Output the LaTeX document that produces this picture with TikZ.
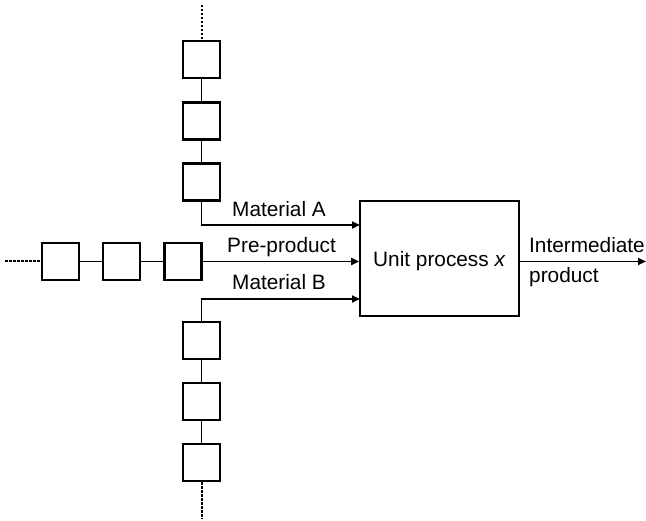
\documentclass[tikz,border=0pt]{standalone}
\usepackage{fontspec}
\setmainfont{Liberation Sans}
\usetikzlibrary{arrows.meta}
\begin{document}
\begin{tikzpicture}[x=1pt,y=-1pt,
  stage/.style={draw, line width=2.3pt, minimum width=37pt, minimum height=37pt, inner sep=0pt},
  unitbox/.style={draw, line width=1.6pt, minimum width=159pt, minimum height=115pt, inner sep=0pt},
  flow/.style={line width=1.9pt, -{Triangle[length=8pt,width=7pt]}},
  link/.style={line width=1.9pt},
  chainend/.style={line width=2pt, dash pattern=on 2.5pt off 1.5pt},
  lbl/.style={anchor=base west, inner sep=0pt, font=\fontsize{20.8}{24}\selectfont}]
\useasboundingbox (0,0) rectangle (646,521);

% unit process
\node[unitbox] (unit) at (439.5,258.5) {};
\node[lbl] (unitlbl) at (373,266.7) {Unit process \textit{x}};

% upper chain (material A)
\node[stage] (t1) at (201.5,59.5) {};
\node[stage] (t2) at (201.5,121) {};
\node[stage] (t3) at (201.5,182) {};
\coordinate (ttop) at (201.5,5);
\draw[chainend] (ttop) -- (t1.north);
\draw[link] (t1) -- (t2);
\draw[link] (t2) -- (t3);

% left chain (pre-product)
\node[stage] (h1) at (60.5,261.5) {};
\node[stage] (h2) at (121.5,261.5) {};
\node[stage] (h3) at (183,261.5) {};
\coordinate (hleft) at (5,261.5);
\draw[chainend] (hleft) -- (h1.west);
\draw[link] (h1) -- (h2);
\draw[link] (h2) -- (h3);

% lower chain (material B)
\node[stage] (b1) at (201.5,340.5) {};
\node[stage] (b2) at (201.5,401.5) {};
\node[stage] (b3) at (201.5,462.5) {};
\coordinate (bbot) at (201.5,519);
\draw[chainend] (b3.south) -- (bbot);
\draw[link] (b1) -- (b2);
\draw[link] (b2) -- (b3);

% inputs into the unit process
\coordinate (ma) at (360,225);
\coordinate (mb) at (360,299);
\draw[flow] (t3.south) |- (ma);
\draw[flow] (h3.east) -- (h3 -| unit.west);
\draw[flow] (b1.north) |- (mb);
\node[lbl] (lblA) at (232,216.7) {Material A};
\node[lbl] (lblP) at (227,252.5) {Pre-product};
\node[lbl] (lblB) at (232,289.7) {Material B};

% output
\coordinate (out) at (646,261.5);
\draw[flow] (unit.east |- out) -- (out);
\node[lbl] (lblI) at (529,253) {Intermediate};
\node[lbl] (lblQ) at (529,283) {product};
\end{tikzpicture}
\end{document}
